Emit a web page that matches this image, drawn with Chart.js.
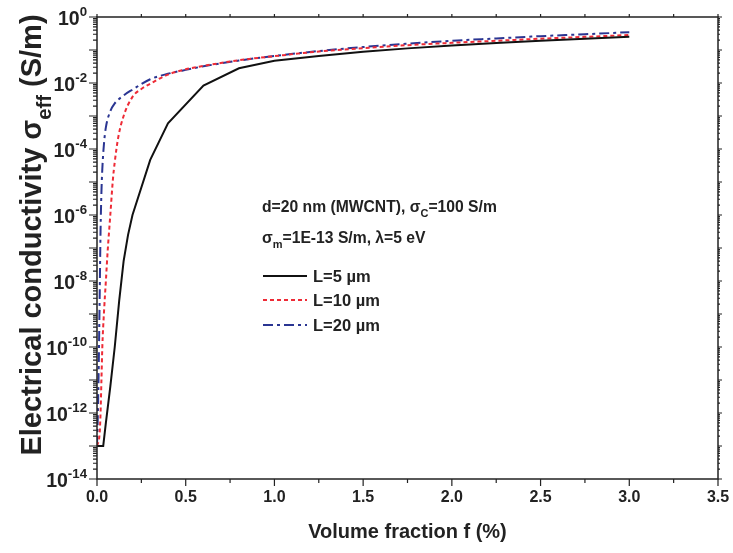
<!DOCTYPE html>
<html>
<head>
<meta charset="utf-8">
<script src="https://cdn.jsdelivr.net/npm/chart.js@4.4.1/dist/chart.umd.min.js"></script>
<style>
  html, body { margin: 0; padding: 0; background: #fff; }
</style>
</head>
<body>
<canvas id="grafica" width="733" height="553"></canvas>
<script>
// datos
const fracL5 = [0, 0.035, 0.05, 0.075, 0.1, 0.125, 0.15, 0.175, 0.2, 0.3, 0.4, 0.6, 0.8, 1.0, 1.25, 1.5, 1.75, 2.0, 2.25, 2.5, 2.75, 3.0];
const sigL5 = [1e-13, 1e-13, 5e-13, 6.3e-12, 1e-10, 2.5e-9, 4e-8, 2.5e-7, 1e-6, 4.7e-5, 6e-4, 8.3e-3, 2.8e-2, 4.7e-2, 6.6e-2, 8.9e-2, 0.112, 0.138, 0.162, 0.19, 0.22, 0.25];

const fracL10 = [0, 0.015, 0.02, 0.025, 0.03, 0.04, 0.05, 0.06, 0.075, 0.09, 0.1, 0.12, 0.15, 0.2, 0.25, 0.3, 0.4, 0.5, 0.6, 0.8, 1.0, 1.25, 1.5, 1.75, 2.0, 2.25, 2.5, 2.75, 3.0];
const sigL10 = [1e-13, 2.5e-13, 1e-12, 1e-11, 1e-10, 1.3e-9, 1e-8, 7.9e-8, 1e-6, 1.26e-5, 4e-5, 2.3e-4, 1e-3, 3.8e-3, 6.6e-3, 9.5e-3, 1.8e-2, 2.6e-2, 3.3e-2, 4.9e-2, 6.5e-2, 9.0e-2, 0.113, 0.14, 0.165, 0.19, 0.22, 0.25, 0.285];

const fracL20 = [0, 0.005, 0.01, 0.015, 0.02, 0.025, 0.03, 0.04, 0.05, 0.075, 0.1, 0.15, 0.2, 0.3, 0.4, 0.5, 0.6, 0.8, 1.0, 1.25, 1.5, 1.75, 2.0, 2.25, 2.5, 2.75, 3.0];
const sigL20 = [1e-13, 1e-12, 3.2e-11, 3.2e-9, 3.2e-7, 5e-6, 2.5e-5, 1.6e-4, 4.5e-4, 1.4e-3, 2.4e-3, 4.2e-3, 6.3e-3, 1.3e-2, 1.9e-2, 2.5e-2, 3.2e-2, 4.8e-2, 6.6e-2, 9.3e-2, 0.123, 0.155, 0.19, 0.224, 0.263, 0.30, 0.347];

const etiquetasSerie = ['L=5 µm', 'L=10 µm', 'L=20 µm'];
const xTicks = [0, 0.5, 1.0, 1.5, 2.0, 2.5, 3.0, 3.5];
const xTickLabels = ['0.0', '0.5', '1.0', '1.5', '2.0', '2.5', '3.0', '3.5'];
const yTickExps = [0, -2, -4, -6, -8, -10, -12, -14];

function puntos(xs, ys) {
    return xs.map((x, i) => ({ x: x, y: ys[i] }));
}

const FUENTE = '"Liberation Sans", Arial, sans-serif';

// texto con subindices / superindices
function textoRico(ctx, partes, x, y, size) {
    let cx = x;
    partes.forEach(p => {
        let s = size, dy = 0;
        if (p.sub) { s = size * 0.7; dy = size * 0.35; }
        if (p.sup) { s = size * 0.68; dy = -size * 0.45; }
        ctx.font = 'bold ' + s + 'px ' + FUENTE;
        ctx.fillText(p.t, cx, y + dy);
        cx += ctx.measureText(p.t).width;
    });
    return cx - x;
}
function anchoRico(ctx, partes, size) {
    let w = 0;
    partes.forEach(p => {
        let s = size;
        if (p.sub) s = size * 0.7;
        if (p.sup) s = size * 0.68;
        ctx.font = 'bold ' + s + 'px ' + FUENTE;
        w += ctx.measureText(p.t).width;
    });
    return w;
}

const ejes = {
    id: 'ejes',
    afterDraw(chart) {
        const ctx = chart.ctx;
        const xs = chart.scales.x, ys = chart.scales.y;
        const a = chart.chartArea;
        ctx.save();
        ctx.strokeStyle = '#222';
        ctx.fillStyle = '#222';
        ctx.lineWidth = 1.5;
        ctx.strokeRect(a.left, a.top, a.right - a.left, a.bottom - a.top);

        // ticks eje x
        ctx.lineWidth = 1.2;
        for (let v = 0; v <= 3.5001; v += 0.25) {
            const px = xs.getPixelForValue(v);
            const mayor = Math.abs(v * 2 - Math.round(v * 2)) < 1e-6;
            ctx.beginPath();
            ctx.moveTo(px, a.bottom);
            ctx.lineTo(px, a.bottom + (mayor ? 7 : 4));
            ctx.moveTo(px, a.top);
            ctx.lineTo(px, a.top - 3);
            ctx.stroke();
        }
        // ticks eje y (log)
        for (let e = -14; e <= 0; e++) {
            for (let m = 1; m <= 9; m++) {
                if (e === 0 && m > 1) break;
                const py = ys.getPixelForValue(m * Math.pow(10, e));
                const len = m === 1 ? 8 : 4;
                ctx.beginPath();
                ctx.moveTo(a.left, py);
                ctx.lineTo(a.left - len, py);
                ctx.moveTo(a.right, py);
                ctx.lineTo(a.right + (m === 1 ? 4 : 2), py);
                ctx.stroke();
            }
        }

        // etiquetas x
        ctx.font = 'bold 16px ' + FUENTE;
        ctx.textAlign = 'center';
        ctx.textBaseline = 'middle';
        xTicks.forEach((v, i) => {
            ctx.fillText(xTickLabels[i], xs.getPixelForValue(v), a.bottom + 19);
        });

        // etiquetas y
        ctx.textAlign = 'left';
        ctx.textBaseline = 'alphabetic';
        yTickExps.forEach(e => {
            const py = ys.getPixelForValue(Math.pow(10, e));
            const partes = [{ t: '10' }, { t: String(e), sup: true }];
            const w = anchoRico(ctx, partes, 19.5);
            textoRico(ctx, partes, a.left - 10 - w, py + 8, 19.5);
        });

        // titulo x
        ctx.font = 'bold 20px ' + FUENTE;
        ctx.textAlign = 'center';
        ctx.fillText('Volume fraction f (%)', (a.left + a.right) / 2, 538);

        // titulo y
        ctx.save();
        ctx.translate(41, 235);
        ctx.rotate(-Math.PI / 2);
        ctx.textAlign = 'left';
        const tituloY = [{ t: 'Electrical conductivity σ' }, { t: 'eff', sub: true }, { t: ' (S/m)' }];
        const wy = anchoRico(ctx, tituloY, 29);
        textoRico(ctx, tituloY, -wy / 2, 0, 29);
        ctx.restore();

        // anotacion
        ctx.textAlign = 'left';
        textoRico(ctx, [{ t: 'd=20 nm (MWCNT), σ' }, { t: 'C', sub: true }, { t: '=100 S/m' }], 262, 212, 15.7);
        textoRico(ctx, [{ t: 'σ' }, { t: 'm', sub: true }, { t: '=1E-13 S/m, λ=5 eV' }], 262, 243, 15.7);

        // leyenda
        const filas = [276, 300, 325];
        chart.data.datasets.forEach((ds, i) => {
            ctx.strokeStyle = ds.borderColor;
            ctx.lineWidth = ds.borderWidth;
            ctx.setLineDash(ds.borderDash || []);
            ctx.beginPath();
            ctx.moveTo(263, filas[i]);
            ctx.lineTo(307, filas[i]);
            ctx.stroke();
            ctx.setLineDash([]);
            ctx.fillStyle = '#222';
            ctx.font = 'bold 16.5px ' + FUENTE;
            ctx.textBaseline = 'middle';
            ctx.fillText(etiquetasSerie[i], 313, filas[i] + 1);
        });
        ctx.restore();
    }
};

const ctx1 = document.getElementById('grafica').getContext('2d');
const grafica = new Chart(ctx1, {
    type: 'line',
    data: {
        datasets: [{
            label: etiquetasSerie[0],
            data: puntos(fracL5, sigL5),
            borderColor: '#111111',
            borderWidth: 2,
            tension: 0,
            pointRadius: 0
        }, {
            label: etiquetasSerie[1],
            data: puntos(fracL10, sigL10),
            borderColor: '#ee2b36',
            borderWidth: 2,
            borderDash: [4, 3],
            cubicInterpolationMode: 'monotone',
            pointRadius: 0
        }, {
            label: etiquetasSerie[2],
            data: puntos(fracL20, sigL20),
            borderColor: '#2a3592',
            borderWidth: 2,
            borderDash: [10, 4, 3, 4],
            cubicInterpolationMode: 'monotone',
            pointRadius: 0
        }]
    },
    options: {
        responsive: false,
        animation: false,
        layout: {
            padding: { left: 97, right: 15, top: 17, bottom: 74 }
        },
        plugins: {
            legend: { display: false },
            tooltip: { enabled: false }
        },
        scales: {
            x: { type: 'linear', min: 0, max: 3.5, display: false },
            y: { type: 'logarithmic', min: 1e-14, max: 1, display: false }
        }
    },
    plugins: [ejes]
});
</script>
</body>
</html>
